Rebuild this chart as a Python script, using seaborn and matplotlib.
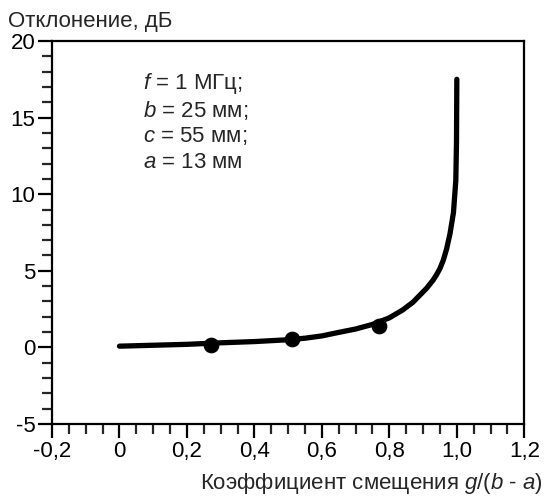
import matplotlib
matplotlib.use("Agg")
import matplotlib.pyplot as plt
import seaborn as sns
import pandas as pd
from matplotlib.ticker import MultipleLocator, FuncFormatter

# Curve
curve_x = [0.0, 0.1, 0.2, 0.3, 0.4, 0.5, 0.55, 0.6, 0.65, 0.7, 0.75, 0.8, 0.84, 0.87, 0.89, 0.91,
           0.93, 0.94, 0.95, 0.96, 0.97, 0.98, 0.99, 0.997, 0.999, 1.0]
curve_y = [0.08, 0.14, 0.2, 0.3, 0.38, 0.5, 0.6, 0.75, 0.98, 1.2, 1.5, 1.93, 2.45, 2.95, 3.4, 3.85,
           4.4, 4.75, 5.15, 5.7, 6.45, 7.45, 8.8, 10.9, 13.4, 17.5]

# Measured points
pts_x = [0.27, 0.51, 0.77]
pts_y = [0.13, 0.52, 1.4]

param_lines = ["$f$ = 1 МГц;", "$b$ = 25 мм;", "$c$ = 55 мм;", "$a$ = 13 мм"]
y_label = "Отклонение, дБ"
x_label = "Коэффициент смещения $g$/($b$ - $a$)"

sns.set_style("ticks")
plt.rcParams["font.family"] = ["Liberation Sans", "DejaVu Sans"]
plt.rcParams["mathtext.fontset"] = "custom"
plt.rcParams["mathtext.rm"] = "Liberation Sans"
plt.rcParams["mathtext.it"] = "Liberation Sans:italic"

FS = 16

fig = plt.figure(figsize=(5.46, 4.97), dpi=100)
ax = fig.add_axes([52/546, 1-424/497, (524.3-52)/546, (424-41)/497])

df_c = pd.DataFrame({"x": curve_x, "y": curve_y})
df_p = pd.DataFrame({"x": pts_x, "y": pts_y})
sns.lineplot(data=df_c, x="x", y="y", ax=ax, color="black", linewidth=3.8, sort=False)
sns.scatterplot(data=df_p, x="x", y="y", ax=ax, color="black", s=110, edgecolor="black", zorder=5)

ax.set_xlim(-0.2, 1.2)
ax.set_ylim(-5, 20)
ax.xaxis.set_major_locator(MultipleLocator(0.2))
ax.xaxis.set_minor_locator(MultipleLocator(0.05))
ax.yaxis.set_major_locator(MultipleLocator(5))
ax.yaxis.set_minor_locator(MultipleLocator(1))

def fmt_x(v, pos):
    if abs(v) < 1e-9:
        return "0"
    return f"{v:.1f}".replace(".", ",")
ax.xaxis.set_major_formatter(FuncFormatter(fmt_x))
ax.yaxis.set_major_formatter(FuncFormatter(lambda v, p: f"{v:.0f}"))

for s in ax.spines.values():
    s.set_linewidth(1.6)
    s.set_color("black")
ax.tick_params(which="major", direction="out", length=10, width=1.6, labelsize=FS, pad=2, colors="black")
ax.tick_params(which="minor", direction="out", length=7, width=1.6)
ax.set_xlabel("")
ax.set_ylabel("")

fig.text(8/546, 1-22/497, y_label, ha="left", va="center", fontsize=FS)
fig.text(543/546, 1-484/497, x_label, ha="right", va="center", fontsize=FS)

for i, line in enumerate(param_lines):
    fig.text(143/546, 1-(84+i*26)/497, line, ha="left", va="center", fontsize=FS)

fig.savefig("out.png", dpi=100)
